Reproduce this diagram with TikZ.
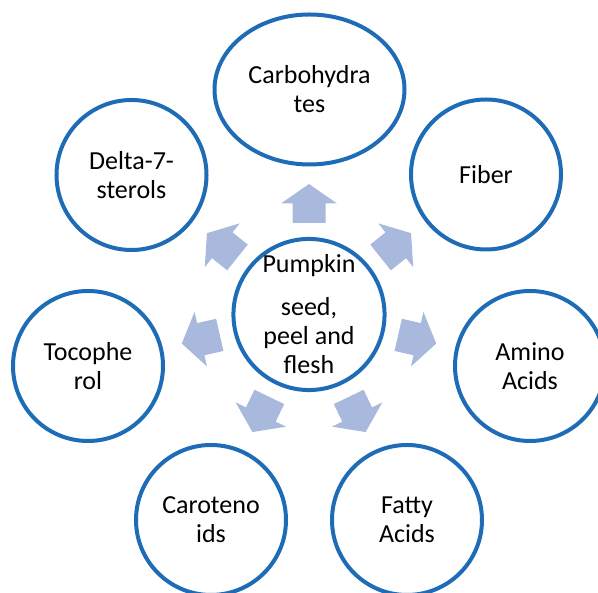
\documentclass[tikz,border=0pt]{standalone}
\usepackage{fontspec}
\setmainfont{Carlito}
\usetikzlibrary{shapes.geometric}
\definecolor{ringblue}{RGB}{30,107,182}
\definecolor{arrowblue}{RGB}{169,185,221}

\begin{document}
\begin{tikzpicture}[x=1pt,y=1pt,
  part/.style={circle,draw=ringblue,line width=4pt,fill=white,minimum size=150pt,inner sep=0pt,align=center,font=\fontsize{26}{29}\selectfont},
  blockarrow/.style={fill=arrowblue}]
\clip (0,0) rectangle (598,593);
% hub
\node[part] (hub) at (309,278.5) {Pumpkin\\[14pt]seed,\\peel and\\flesh};
% arrows
\foreach \a in {90,38.57,-12.86,-64.29,-115.71,-167.14,141.43}
  \fill[blockarrow,shift={(hub.center)},rotate=\a] (91.5,-16.5) -- (111,-16.5) -- (111,-28) -- (130.5,0) -- (111,28) -- (111,16.5) -- (91.5,16.5) -- cycle;
% parts
\node[part,ellipse,minimum width=190pt,minimum height=150pt] (carb) at (309.5,503.5) {Carbohydra\\tes};
\node[part] (fiber) at (486,418.5) {Fiber};
\node[part] (amino) at (530,227) {Amino\\Acids};
\node[part] (fatty) at (407,73) {Fatty\\Acids};
\node[part] (carot) at (211,73) {Caroteno\\ids};
\node[part] (toco) at (88,227) {Tocophe\\rol};
\node[part] (delta) at (131.5,418) {Delta-7-\\sterols};
\end{tikzpicture}
\end{document}
